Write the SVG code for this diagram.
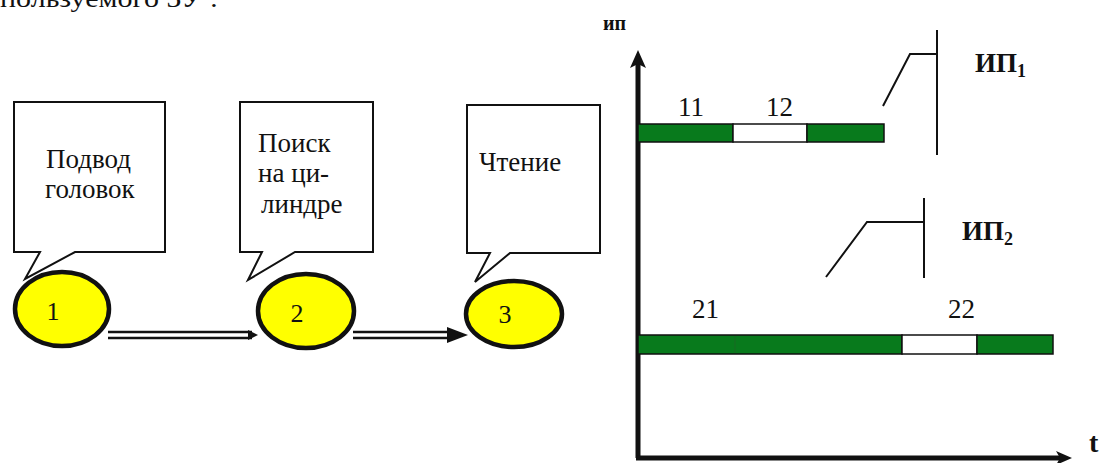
<svg xmlns="http://www.w3.org/2000/svg" width="1100" height="463" viewBox="0 0 1100 463">
  <defs>
    <style>
      .serif { font-family: "Liberation Serif", "Times New Roman", serif; fill: #111; }
      .box { fill: #fff; stroke: #111; stroke-width: 2; stroke-linejoin: miter; }
      .state { fill: #ffff00; stroke: #111; stroke-width: 4.5; }
      .num { font-size: 26px; text-anchor: middle; }
      .lbl { font-size: 27px; }
      .bar { stroke: #111; stroke-width: 1.5; }
      .green { fill: #087a1c; }
      .white { fill: #fff; }
      .thin { stroke: #111; stroke-width: 2; fill: none; }
      .bold { font-weight: bold; font-size: 27px; }
      .sub { font-size: 18px; }
    </style>
  </defs>

  <rect width="1100" height="463" fill="#fff"/>

  <!-- cut-off line of running text above the figure -->
  <text class="serif" x="0" y="7" font-size="25" textLength="218" lengthAdjust="spacingAndGlyphs">пользуемого ЗУ :</text>

  <!-- state 1 -->
  <g id="node1">
    <path class="box" d="M14,102 H165 V252 H75 L25,279 L40,252 H14 Z"/>
    <text class="serif lbl" x="46" y="168">Подвод</text>
    <text class="serif lbl" x="45" y="198">головок</text>
    <ellipse class="state" cx="62" cy="309" rx="47" ry="37"/>
    <text class="serif num" x="53" y="320">1</text>
  </g>

  <!-- state 2 -->
  <g id="node2">
    <path class="box" d="M240,102 H373 V252 H295 L248,280 L262,252 H240 Z"/>
    <text class="serif lbl" x="258" y="152">Поиск</text>
    <text class="serif lbl" x="258" y="182">на ци-</text>
    <text class="serif lbl" x="261" y="213">линдре</text>
    <ellipse class="state" cx="306" cy="311" rx="48" ry="37"/>
    <text class="serif num" x="297" y="322">2</text>
  </g>

  <!-- state 3 -->
  <g id="node3">
    <path class="box" d="M467,105 H600 V253 H510 L475,282 L490,253 H467 Z"/>
    <text class="serif lbl" x="479" y="171">Чтение</text>
    <ellipse class="state" cx="514" cy="314" rx="48" ry="33"/>
    <text class="serif num" x="505" y="323">3</text>
  </g>

  <!-- transitions between states -->
  <g id="connectors">
    <line x1="108" y1="332" x2="252" y2="332" stroke="#111" stroke-width="2.5"/>
    <line x1="108" y1="338" x2="252" y2="338" stroke="#111" stroke-width="2.5"/>
    <path d="M248,330 L258,335 L248,340 Z" fill="#111"/>
    <line x1="353" y1="332" x2="452" y2="332" stroke="#111" stroke-width="2.5"/>
    <line x1="353" y1="338" x2="452" y2="338" stroke="#111" stroke-width="2.5"/>
    <path d="M447,327 L468,335 L447,343 Z" fill="#111"/>
  </g>

  <!-- time chart -->
  <g id="axes">
    <line x1="638" y1="62" x2="638" y2="458" stroke="#111" stroke-width="5"/>
    <path d="M638,50 L646,68 L638,64 L630,68 Z" fill="#111"/>
    <line x1="636" y1="458" x2="1062" y2="458" stroke="#111" stroke-width="5"/>
    <path d="M1072,458 L1056,451 L1060,458 L1056,465 Z" fill="#111"/>
    <text class="serif" x="603" y="30" font-size="20" font-weight="bold">ип</text>
    <text class="serif" x="1089" y="452" font-size="28" font-weight="bold">t</text>
  </g>

  <g id="process1">
    <rect class="bar green" x="638" y="124" width="95" height="18"/>
    <rect class="bar white" x="733" y="124" width="74" height="18"/>
    <rect class="bar green" x="807" y="124" width="77" height="18"/>
    <text class="serif lbl" x="678" y="116">11</text>
    <text class="serif lbl" x="766" y="116">12</text>
    <polyline class="thin" points="883,106 910,54 937,54"/>
    <line class="thin" x1="937" y1="30" x2="937" y2="155"/>
    <text class="serif bold" x="975" y="72">ИП<tspan class="sub" dy="5">1</tspan></text>
  </g>

  <g id="process2">
    <rect class="bar green" x="638" y="335" width="264" height="19"/>
    <line x1="735" y1="336" x2="735" y2="353" stroke="#2a5a2a" stroke-width="1" opacity="0.5"/>
    <rect class="bar white" x="902" y="335" width="75" height="19"/>
    <rect class="bar green" x="977" y="335" width="76" height="19"/>
    <text class="serif lbl" x="692" y="318">21</text>
    <text class="serif lbl" x="948" y="318">22</text>
    <polyline class="thin" points="826,277 867,222 924,222"/>
    <line class="thin" x1="924" y1="198" x2="924" y2="278"/>
    <text class="serif bold" x="962" y="240">ИП<tspan class="sub" dy="5">2</tspan></text>
  </g>
</svg>
